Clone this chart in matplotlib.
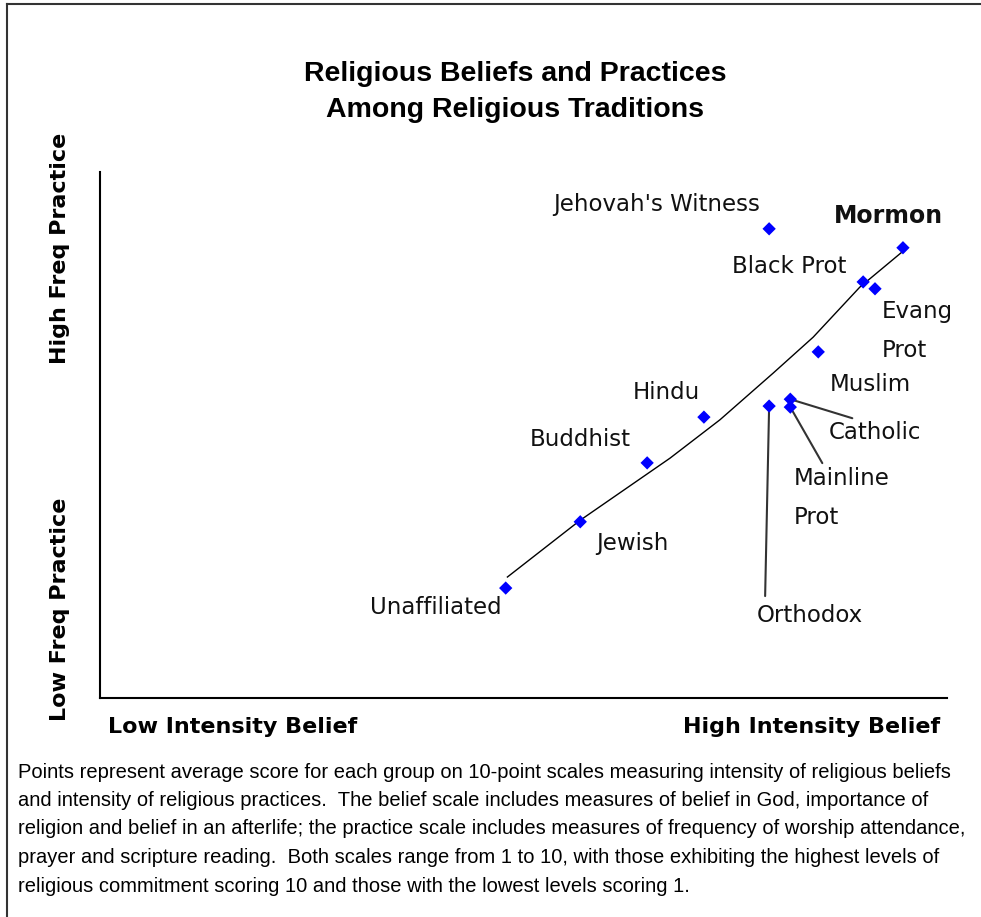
"""Religious beliefs vs. practices scatter, rebuilt with matplotlib."""
import matplotlib

matplotlib.use("Agg")
import matplotlib.pyplot as plt  # noqa: E402
from matplotlib.lines import Line2D  # noqa: E402

# belief intensity (x) and practice frequency (y), both on a 0-10 chart scale
groups = ["Unaffiliated", "Jewish", "Buddhist", "Hindu", "Orthodox", "Catholic",
          "Mainline Prot", "Muslim", "Jehovah's Witness", "Black Prot",
          "Evang Prot", "Mormon"]
belief = [4.79, 5.67, 6.46, 7.13, 7.90, 8.15, 8.15, 8.48, 7.90, 9.01, 9.15, 9.48]
practice = [2.09, 3.35, 4.47, 5.34, 5.55, 5.68, 5.53, 6.58, 8.92, 7.91, 7.78, 8.56]

# fitted trend line
trend_x = [4.81, 5.67, 6.73, 7.32, 7.95, 8.42, 8.97, 9.47]
trend_y = [2.30, 3.38, 4.56, 5.29, 6.18, 6.86, 7.81, 8.48]

title_lines = ["Religious Beliefs and Practices", "Among Religious Traditions"]
note_lines = [
    "Points represent average score for each group on 10-point scales measuring intensity of religious beliefs",
    "and intensity of religious practices.  The belief scale includes measures of belief in God, importance of",
    "religion and belief in an afterlife; the practice scale includes measures of frequency of worship attendance,",
    "prayer and scripture reading.  Both scales range from 1 to 10, with those exhibiting the highest levels of",
    "religious commitment scoring 10 and those with the lowest levels scoring 1.",
]

# label placement: (text, dx px, dy px, ha)
label_pos = {
    "Unaffiliated": ("Unaffiliated", -4, -19, "right"),
    "Jewish": ("Jewish", 16, -22, "left"),
    "Buddhist": ("Buddhist", -16, 23, "right"),
    "Hindu": ("Hindu", -4, 25, "right"),
    "Orthodox": ("Orthodox", 41, -209, "center"),
    "Catholic": ("Catholic", 38, -33, "left"),
    "Mainline Prot": ("Mainline\nProt", 3, -91, "left"),
    "Muslim": ("Muslim", 11, -33, "left"),
    "Jehovah's Witness": ("Jehovah's Witness", -9, 24, "right"),
    "Black Prot": ("Black Prot", -17, 15, "right"),
    "Evang Prot": ("Evang\nProt", 7, -42, "left"),
    "Mormon": ("Mormon", -15, 32, "center"),
}
# leader lines from marker, end offset in px
leaders = {"Orthodox": (-4, -190), "Catholic": (62, -19), "Mainline Prot": (32, -56)}

W, H = 981, 917
fig = plt.figure(figsize=(W / 100, H / 100), dpi=100)
ax = fig.add_axes([100 / W, (H - 698) / H, 847 / W, 526 / H])
ax.set_xlim(0, 10)
ax.set_ylim(0, 10)
for s in ("top", "right"):
    ax.spines[s].set_visible(False)
for s in ("left", "bottom"):
    ax.spines[s].set_linewidth(1.5)
ax.set_xticks([])
ax.set_yticks([])

ax.plot(trend_x, trend_y, color="black", lw=1.0, zorder=2)

for g in leaders:
    i = groups.index(g)
    ax.annotate("", xy=(belief[i], practice[i]), xytext=leaders[g],
                textcoords="offset pixels",
                arrowprops=dict(arrowstyle="-", color="#333333", lw=1.5,
                                shrinkA=0, shrinkB=0))

ax.scatter(belief, practice, marker="D", s=46, color="#0000ff", zorder=3,
           edgecolors="none")

for g, x, y in zip(groups, belief, practice):
    txt, dx, dy, ha = label_pos[g]
    is_bold = g == "Mormon"
    ax.annotate(txt, xy=(x, y), xytext=(dx, dy), textcoords="offset pixels",
                ha=ha, va="center", fontsize=17 if is_bold else 16.5,
                linespacing=1.9, fontweight="bold" if is_bold else "normal",
                color="#111111")

# title
for k, line in enumerate(title_lines):
    fig.text(515 / W, 1 - (74 + 36 * k) / H, line, ha="center", va="center",
             fontsize=20.5, fontweight="bold", family="Liberation Sans")

# axis end labels
bold = dict(fontsize=16, fontweight="bold", va="center")
fig.text(108 / W, 1 - 727 / H, "Low Intensity Belief", ha="left", **bold)
fig.text(940 / W, 1 - 727 / H, "High Intensity Belief", ha="right", **bold)
fig.text(60 / W, 1 - 248 / H, "High Freq Practice", ha="center", rotation=90, **bold)
fig.text(60 / W, 1 - 609 / H, "Low Freq Practice", ha="center", rotation=90, **bold)

# footnote
for k, line in enumerate(note_lines):
    fig.text(18 / W, 1 - (772 + 28.5 * k) / H, line, ha="left", va="center",
             fontsize=14.5, family="Liberation Sans")

# outer frame (left and top edges)
fig.add_artist(Line2D([7 / W, 7 / W], [0, 1 - 4 / H], transform=fig.transFigure,
                      color="#333333", lw=1.5))
fig.add_artist(Line2D([7 / W, 1], [1 - 4 / H, 1 - 4 / H], transform=fig.transFigure,
                      color="#333333", lw=1.5))

fig.savefig("out.png", dpi=100)
